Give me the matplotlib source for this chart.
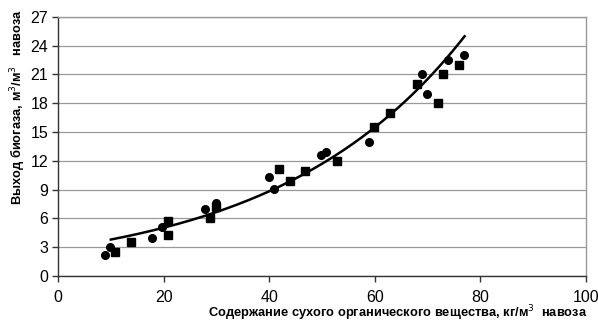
import numpy as np
import matplotlib

matplotlib.use("Agg")
import matplotlib.pyplot as plt

plt.rcParams["font.family"] = ["Liberation Sans", "DejaVu Sans"]

# series 1 (circles)
circle_x = [8.9, 9.8, 17.8, 19.7, 27.8, 29.9, 40.0, 40.9, 49.8, 50.8, 58.9, 68.9, 69.9, 73.9, 76.9]
circle_y = [2.2, 3.0, 4.0, 5.1, 7.0, 7.6, 10.3, 9.1, 12.6, 12.9, 14.0, 21.0, 19.0, 22.5, 23.0]

# series 2 (squares)
square_x = [10.8, 13.8, 20.8, 20.8, 28.8, 29.9, 41.8, 43.9, 46.8, 52.8, 59.8, 62.9, 68.0, 72.0, 73.0, 76.0]
square_y = [2.5, 3.5, 5.7, 4.3, 6.0, 7.2, 11.1, 9.9, 10.9, 12.0, 15.5, 17.0, 20.0, 18.0, 21.0, 22.0]

# exponential trend line y = a * exp(b * x)
trend_a = 2.87
trend_b = 0.0281
trend_range = (10, 77)

x_ticks = [0, 20, 40, 60, 80, 100]
y_ticks = [0, 3, 6, 9, 12, 15, 18, 21, 24, 27]

fig = plt.figure(figsize=(5.98, 3.24), dpi=100)
ax = fig.add_axes([0.097, 0.148, 0.883, 0.8])

ax.plot(circle_x, circle_y, "o", color="black", markersize=5.5, zorder=3)
ax.plot(square_x, square_y, "s", color="black", markersize=5.5, zorder=3)

tx = np.linspace(*trend_range, 200)
ax.plot(tx, trend_a * np.exp(trend_b * tx), color="black", linewidth=1.8, zorder=4)

ax.set_xlim(0, 100)
ax.set_ylim(0, 27)
ax.set_xticks(x_ticks)
ax.set_yticks(y_ticks)
ax.tick_params(axis="both", labelsize=11.5, length=4, width=1, color="#333333", direction="out")
ax.tick_params(axis="x", pad=6)
ax.tick_params(axis="y", pad=3)
ax.grid(True, axis="y", color="#999999", linewidth=0.9)
ax.set_axisbelow(True)

ax.spines["left"].set_color("#333333")
ax.spines["bottom"].set_color("#333333")
ax.spines["top"].set_color("#999999")
ax.spines["right"].set_color("#999999")
for s in ax.spines.values():
    s.set_linewidth(1.0)

fig.text(0.03, 0.67, "Выход биогаза, м$^3$/м$^3$   навоза", rotation=90,
         fontsize=9.3, fontweight="bold", ha="center", va="center")
fig.text(0.983, 0.003, "Содержание сухого органического вещества, кг/м$^3$  навоза",
         fontsize=9.3, fontweight="bold", ha="right", va="bottom")

fig.savefig("out.png", dpi=100)
plt.close(fig)
